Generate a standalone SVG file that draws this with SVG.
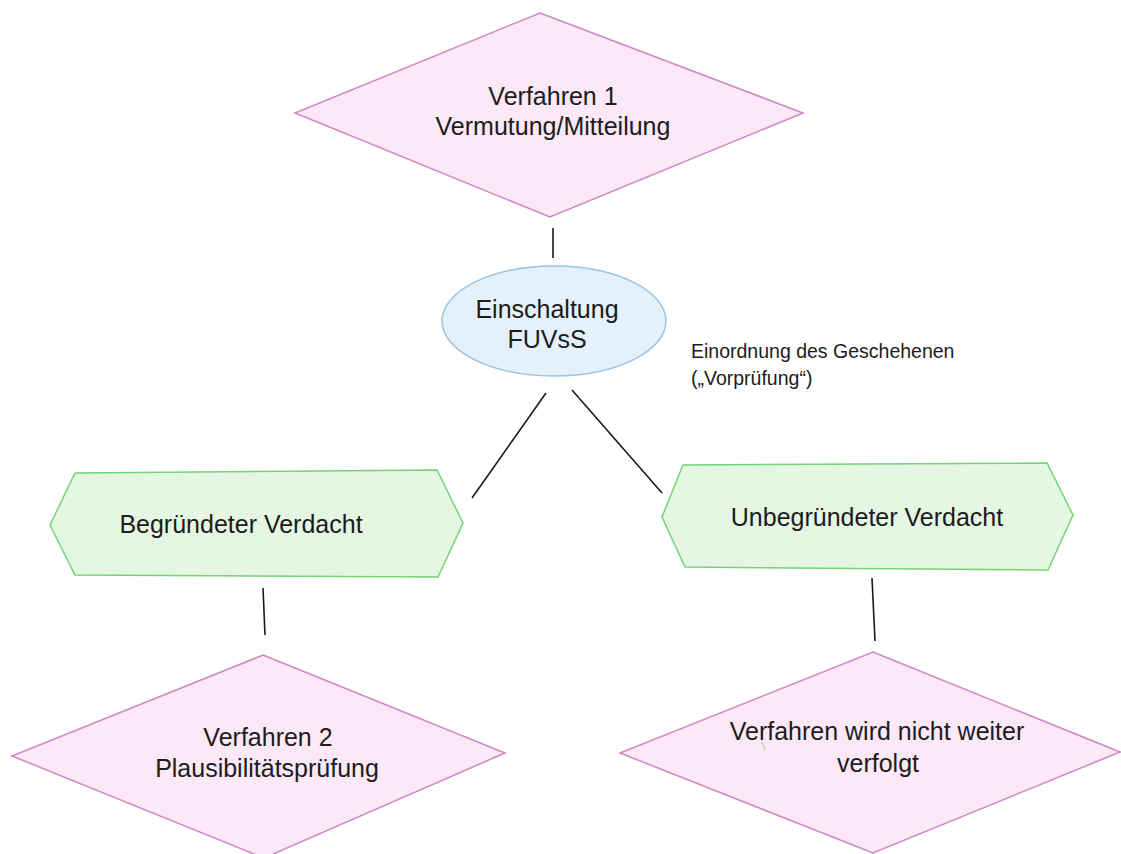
<svg xmlns="http://www.w3.org/2000/svg" width="1121" height="854" viewBox="0 0 1121 854">
  <style>
    .dia { fill: #fce8f6; stroke: #cf86c6; stroke-width: 1.5; }
    .hex { fill: #e5f7e3; stroke: #74d374; stroke-width: 1.5; }
    .ell { fill: #e4f0fa; stroke: #9cc4e2; stroke-width: 1.5; }
    .lbl { font-family: "Liberation Sans", Arial, sans-serif; font-size: 25px; fill: #1c1c1c; text-anchor: middle; }
    .note { font-family: "Liberation Sans", Arial, sans-serif; font-size: 19.5px; fill: #1c1c1c; }
    .conn line { stroke: #1a1a1a; stroke-width: 1.6; }
  </style>
  <rect width="1121" height="854" fill="#ffffff"/>

  <g id="connectors" class="conn">
    <line x1="553" y1="228" x2="553" y2="258"/>
    <line x1="546" y1="393" x2="472" y2="498"/>
    <line x1="572" y1="390" x2="662" y2="493"/>
    <line x1="263" y1="588" x2="265" y2="635"/>
    <line x1="872" y1="578" x2="875" y2="641"/>
  </g>

  <g id="verfahren1">
    <polygon class="dia" points="540,13 803,113 550,217 295,113"/>
    <text class="lbl" x="553" y="105">Verfahren 1</text>
    <text class="lbl" x="553" y="135">Vermutung/Mitteilung</text>
  </g>

  <g id="einschaltung">
    <ellipse class="ell" cx="554" cy="321" rx="112" ry="55"/>
    <text class="lbl" x="547" y="318">Einschaltung</text>
    <text class="lbl" x="547" y="348">FUVsS</text>
  </g>

  <g id="einordnung">
    <text class="note" x="691" y="358">Einordnung des Geschehenen</text>
    <text class="note" x="691" y="385">(„Vorprüfung“)</text>
  </g>

  <g id="begruendet">
    <polygon class="hex" points="75,473 437,470 463,523 438,577 75,575 50,525"/>
    <text class="lbl" x="241" y="533">Begründeter Verdacht</text>
  </g>

  <g id="unbegruendet">
    <polygon class="hex" points="683,465 1047,463 1073,515 1048,570 685,567 662,517"/>
    <text class="lbl" x="867" y="526">Unbegründeter Verdacht</text>
  </g>

  <g id="verfahren2">
    <polygon class="dia" points="263,655 505,753 264,858 12,756"/>
    <text class="lbl" x="268" y="746">Verfahren 2</text>
    <text class="lbl" x="267" y="777">Plausibilitätsprüfung</text>
  </g>

  <g id="nichtweiter">
    <polygon class="dia" points="873,652 1120,752 873,853 620,753"/>
    <text class="lbl" x="877" y="740">Verfahren wird nicht weiter</text>
    <text class="lbl" x="878" y="772">verfolgt</text>
    <line x1="762" y1="742" x2="765" y2="750" stroke="#9ad88a" stroke-width="1"/>
  </g>
</svg>
